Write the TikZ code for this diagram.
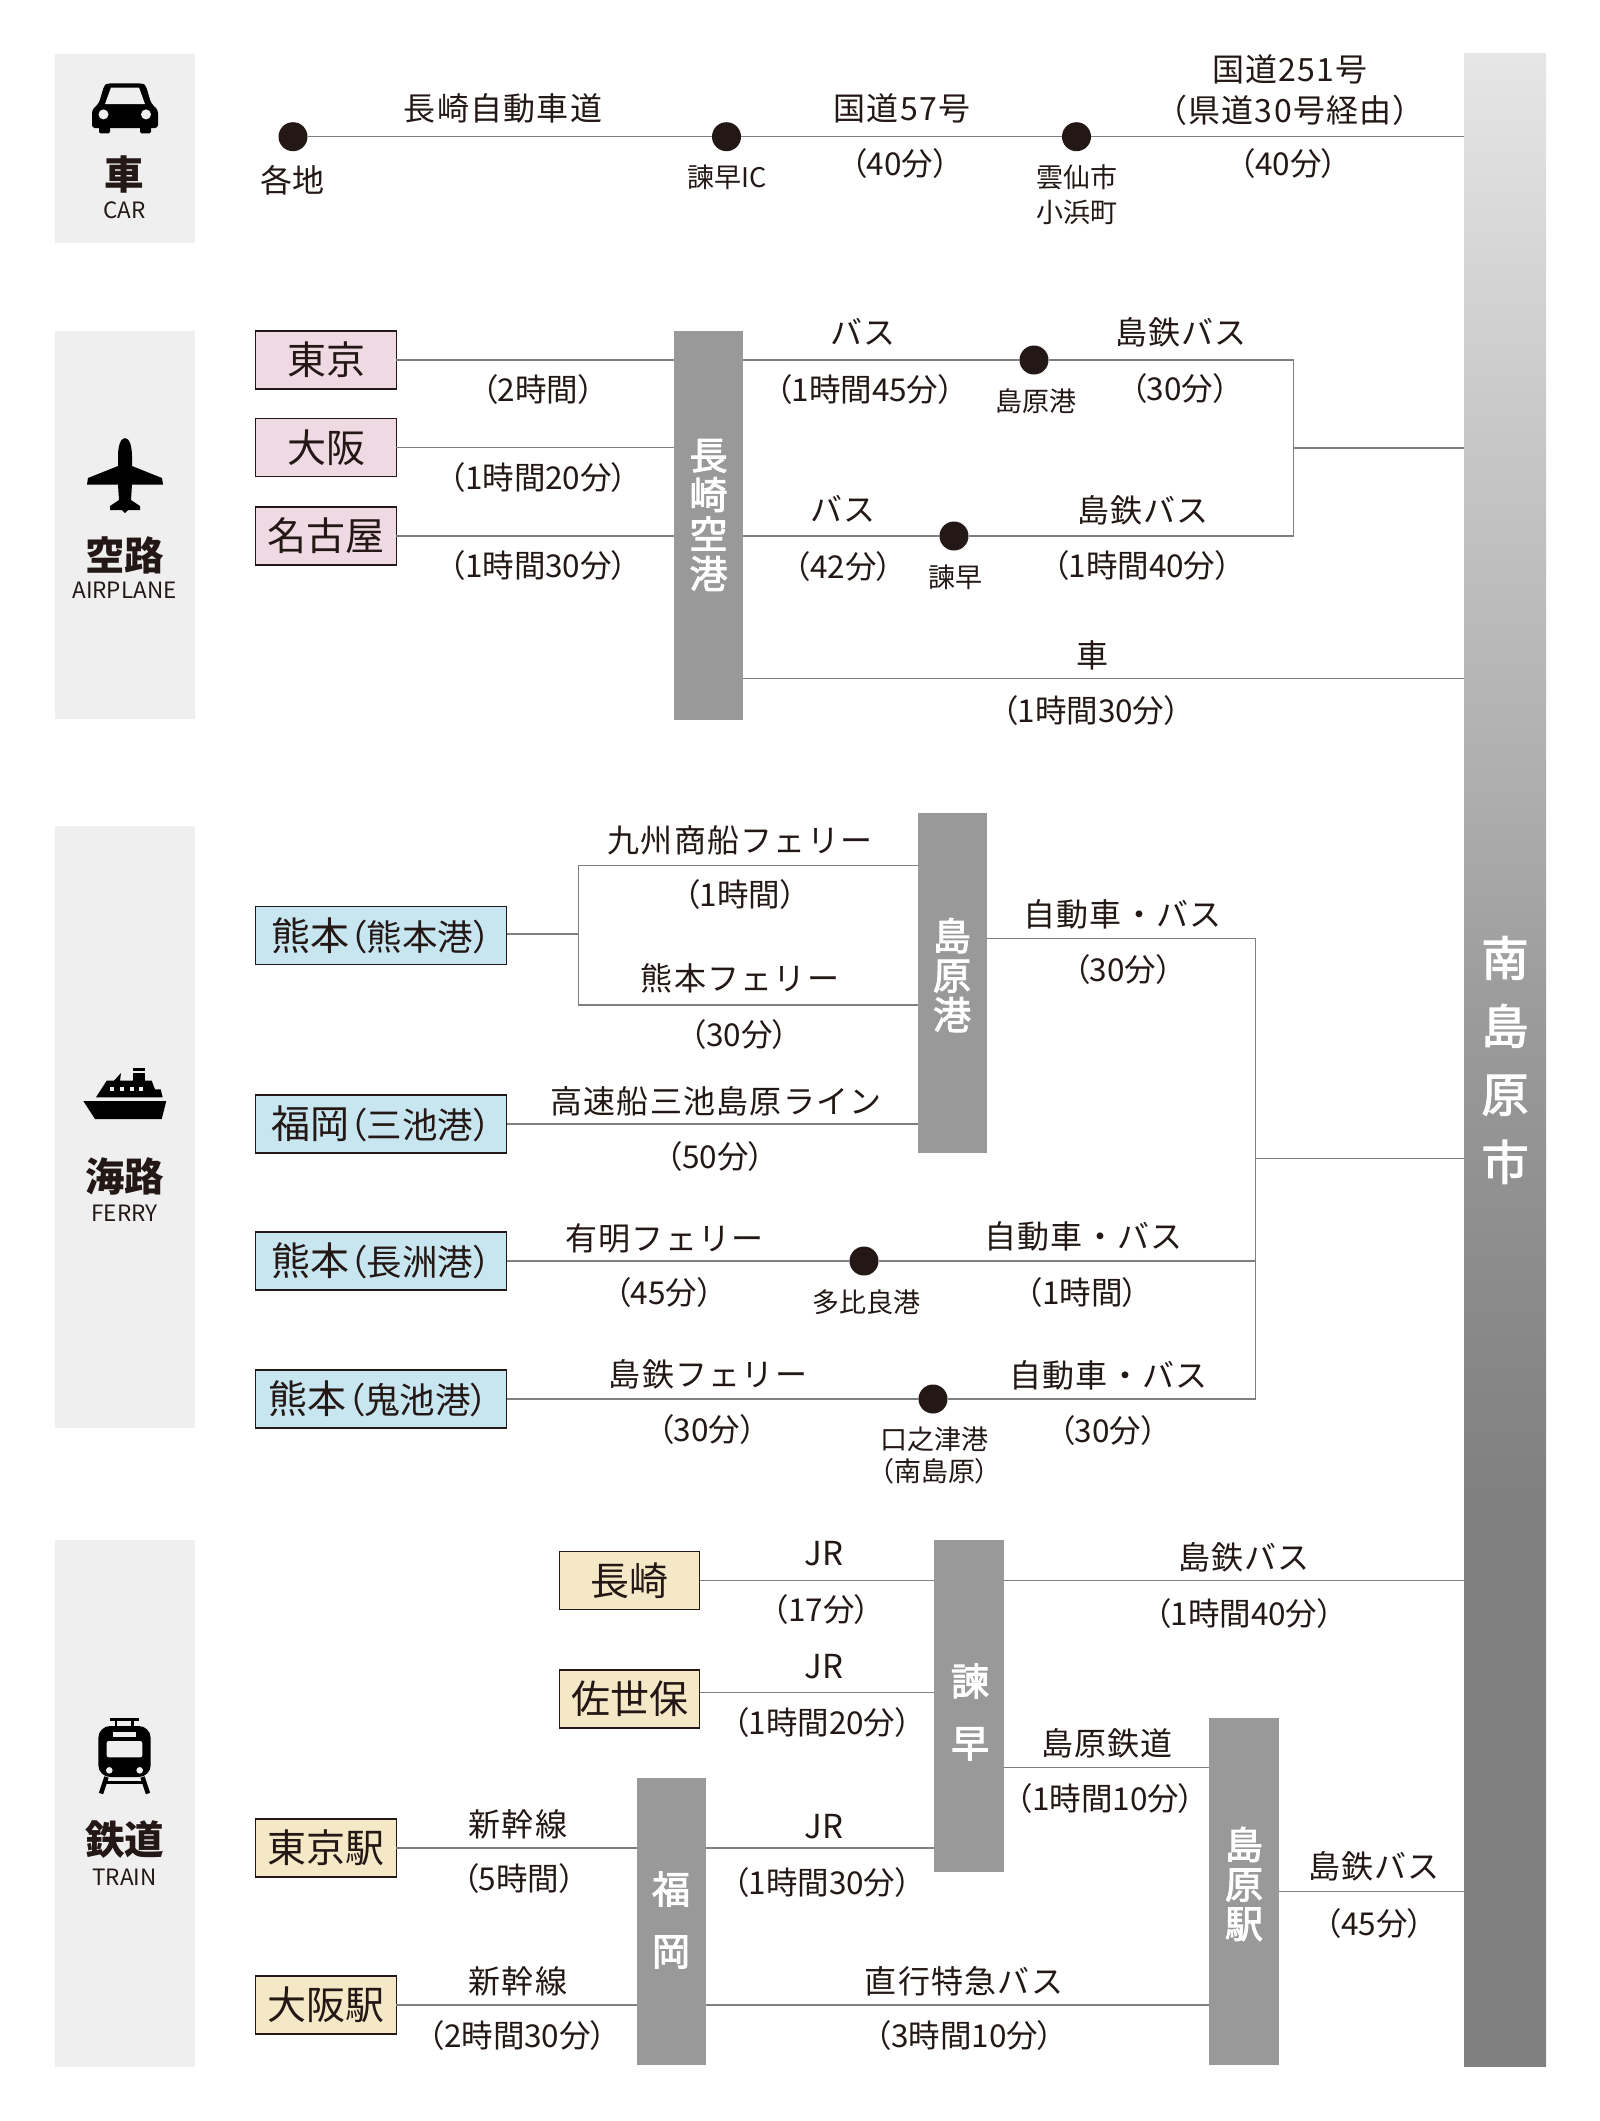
\documentclass[tikz,border=0pt]{standalone}
\usepackage{fontspec}
\setmainfont{Noto Sans CJK JP}
\newfontfamily\lblf[LetterSpace=4]{Noto Sans CJK JP}
\newfontfamily\durf[RawFeature=+palt]{Noto Sans CJK JP}
\newfontfamily\medf[FakeBold=2.5]{Noto Sans CJK JP}
\newcommand\fz[1]{\fontsize{#1}{#1}\selectfont}
\definecolor{ink}{HTML}{231815}
\definecolor{panel}{HTML}{EFEFEF}
\definecolor{barg}{HTML}{999999}
\definecolor{linec}{HTML}{7F7F7F}
\definecolor{pinkb}{HTML}{EFD9E3}
\definecolor{blueb}{HTML}{C8E6F0}
\definecolor{yellb}{HTML}{F5E8C6}
\definecolor{fa}{HTML}{808080}
\definecolor{fb}{HTML}{8A8A8A}
\definecolor{fc}{HTML}{9C9C9C}
\definecolor{fd}{HTML}{ADADAD}
\definecolor{fe}{HTML}{CACACA}
\definecolor{ff}{HTML}{E6E6E6}
\pgfdeclareverticalshading{barfade}{100bp}{color(0bp)=(fa); color(25bp)=(fa); color(39bp)=(fa); color(44bp)=(fb); color(51.5bp)=(fc); color(56.5bp)=(fd); color(66.4bp)=(fe); color(75bp)=(ff); color(100bp)=(ff)}
\tikzset{
  every node/.style={inner sep=0pt,outer sep=0pt,text=ink},
  wh/.style 2 args={minimum width=#1pt,minimum height=#2pt},
  panelbox/.style={fill=panel,minimum width=140pt},
  stopbox/.style={draw=ink,line width=1.3pt,minimum height=58pt,font=\fz{39}},
  pinkbox/.style={stopbox,fill=pinkb,minimum width=140.5pt},
  bluebox/.style={stopbox,fill=blueb,minimum width=251pt},
  yellbox/.style={stopbox,fill=yellb,minimum width=140.5pt},
  hubbar/.style={fill=barg,minimum width=69.5pt},
  hubtext/.style={align=center,text=white},
  tighthub/.style={hubtext,font=\medf\fontsize{38}{39.5}\selectfont},
  widehub/.style={hubtext,font=\medf\fontsize{38}{62}\selectfont},
  desthub/.style={hubtext,font=\medf\fontsize{47}{68}\selectfont},
  dotn/.style={circle,fill=ink,minimum size=29pt},
  conn/.style={draw=linec,line width=1.3pt},
  lab/.style={font=\lblf\fz{32}},
  latin/.style={font=\fz{33}},
  dur/.style={font=\durf\fz{31.5}},
  place/.style={font=\fz{27}},
  bigplace/.style={font=\fz{32}},
  modeh/.style={font=\bfseries\fz{39.5}},
  mode/.style={font=\fz{22.5}},
  icon/.style={fill=black},
}
\newcommand\sm[1]{{\durf\fz{35.5}#1}}
\begin{document}
\begin{tikzpicture}[x=1pt,y=-1pt]
\useasboundingbox (0,0) rectangle (1600,2121);
\fill[white] (0,0) rectangle (1600,2121);
% panels
\node (pcar) [panelbox,minimum height=189pt] at (124.5,148) {};
\node (pair) [panelbox,minimum height=388pt] at (124.5,525) {};
\node (pfer) [panelbox,minimum height=602pt] at (124.5,1127) {};
\node (ptra) [panelbox,minimum height=527.4pt] at (124.5,1803.3) {};
% destination bar
\node (dest) [shading=barfade,wh={82}{2013}] at (1505,1059.5) {};
\node (desttxt) [desthub] at (1505,1060) {南\\島\\原\\市};
% icons: car
\fill[icon,rounded corners=3pt] (92,128)--(92,110)--(99,103)--(104,86)--(107,83.4)--(143,83.4)--(146,86)--(151,103)--(158,110)--(158,128)--cycle;
\fill[icon,rounded corners=1.5pt] (99,126) rectangle (110,133.3);
\fill[icon,rounded corners=1.5pt] (140,126) rectangle (151,133.3);
\fill[panel] (105,104)--(111,87.5)--(139,87.5)--(145,104)--cycle;
\fill[panel] (103.5,114.4) circle (5);
\fill[panel] (146,114.4) circle (5);
% plane
\fill[icon] (125,438) .. controls (120,438) and (118,448) .. (118,456) -- (118,466) -- (88,478) -- (87,484.5) -- (118,484.5) -- (119,500) -- (110,506) -- (110,510) -- (122,510) -- (125,513) -- (128,510) -- (140,510) -- (140,506) -- (131,500) -- (132,484.5) -- (163,484.5) -- (162,478) -- (132,466) -- (132,456) .. controls (132,448) and (130,438) .. (125,438) -- cycle;
% ship
\fill[icon] (83.3,1101)--(166.3,1101)--(161.7,1119)--(95,1119)--cycle;
\fill[icon] (96,1097.3)--(106.7,1080.7)--(114,1080.7)--(121,1073)--(120,1080.7)--(151.7,1080.7)--(155,1089.3)--(160.7,1089.3)--(162.7,1097.3)--cycle;
\fill[icon] (133.3,1067.7) rectangle (145,1071);
\fill[icon] (133.3,1072.7) rectangle (145,1081);
\fill[panel] (109.7,1087.3) rectangle (113.7,1091.3);
\fill[panel] (119.7,1087.3) rectangle (123.7,1091.3);
\fill[panel] (129.7,1087.3) rectangle (133.7,1091.3);
\fill[panel] (139,1087.3) rectangle (143,1091.3);
% train
\fill[icon,rounded corners=12pt] (98.3,1726) rectangle (150.7,1777);
\fill[panel,rounded corners=2pt] (106.7,1741) rectangle (142.3,1757.3);
\fill[panel] (113.3,1732.3) rectangle (136,1736.7);
\fill[panel] (109.3,1770.3) circle (3.3);
\fill[panel] (139.7,1770.3) circle (3.3);
\draw[line width=2.6pt] (110,1719.3)--(139.3,1719.3);
\draw[line width=2.6pt] (116,1719.3)--(116,1727);
\draw[line width=2.6pt] (132.7,1719.3)--(132.7,1727);
\draw[line width=3pt] (105,1782)--(144,1782);
\draw[line width=4.5pt] (106.5,1777)--(101,1793.5);
\draw[line width=4.5pt] (142.5,1777)--(148,1793.5);
% mode labels
\node (m1) [modeh] at (124.5,174) {車};
\node (m2) [mode] at (124.5,210.5) {CAR};
\node (m3) [modeh] at (124.5,555) {空路};
\node (m4) [mode] at (124.5,590) {AIRPLANE};
\node (m5) [modeh] at (124.5,1176) {海路};
\node (m6) [mode] at (124.5,1213) {FERRY};
\node (m7) [modeh] at (124.5,1840) {鉄道};
\node (m8) [mode] at (124.5,1877) {TRAIN};
% car row
\node (c1) [dotn] at (293,136.7) {};
\node (c2) [dotn] at (726.5,136.7) {};
\node (c3) [dotn] at (1076.5,136.7) {};
\draw[conn] (c1) -- (c2);
\draw[conn] (c2) -- (c3);
\draw[conn] (c3) -- (c3 -| dest.west);
\node (t01) [lab] at (503,108.6) {長崎自動車道};
\node (t02) [bigplace] at (292,180.5) {各地};
\node (t03) [place] at (727,177) {諫早IC};
\node (t04) [lab] at (902,108.6) {国道57号};
\node (t05) [dur] at (900,164) {（40分）};
\node (t06) [place] at (1077,177.5) {雲仙市};
\node (t07) [place] at (1077,212.5) {小浜町};
\node (t08) [lab] at (1290,69.5) {国道251号};
\node (t09) [lab] at (1290,110) {（県道30号経由）};
\node (t10) [dur] at (1288.5,164) {（40分）};
% air
\node (tokyo) [pinkbox] at (326,360) {東京};
\node (osaka) [pinkbox] at (326,447.5) {大阪};
\node (nagoya) [pinkbox] at (326,536) {名古屋};
\node (ngap) [hubbar,minimum height=389pt] at (708.3,525) {};
\node (ngapt) [tighthub] at (708.5,515) {長\\崎\\空\\港};
\node (a1) [dotn] at (1034,360) {};
\node (a2) [dotn] at (954,536) {};
\coordinate (ja) at (1293.4,448);
\coordinate (jb) at (1293.4,360);
\coordinate (jc) at (1293.4,536);
\draw[conn] (tokyo) -- (tokyo -| ngap.west);
\draw[conn] (osaka) -- (osaka -| ngap.west);
\draw[conn] (nagoya) -- (nagoya -| ngap.west);
\draw[conn] (a1 -| ngap.east) -- (a1);
\draw[conn] (a1) -- (jb) -- (jc) -- (a2);
\draw[conn] (a2) -- (a2 -| ngap.east);
\draw[conn] (ja) -- (ja -| dest.west);
\coordinate (kr) at (1000,678.6);
\draw[conn] (kr -| ngap.east) -- (kr -| dest.west);
\node (t11) [dur] at (538,390) {（2時間）};
\node (t12) [dur] at (538.5,478) {（1時間20分）};
\node (t13) [dur] at (538.5,566) {（1時間30分）};
\node (t14) [lab] at (863,332) {バス};
\node (t15) [dur] at (865,389.5) {（1時間45分）};
\node (t16) [place] at (1035.5,401.5) {島原港};
\node (t17) [lab] at (1181,332.5) {島鉄バス};
\node (t18) [dur] at (1180,388.5) {（30分）};
\node (t19) [lab] at (843,509) {バス};
\node (t20) [dur] at (843.5,567) {（42分）};
\node (t21) [place] at (955,577.5) {諫早};
\node (t22) [lab] at (1143,510) {島鉄バス};
\node (t23) [dur] at (1142,566) {（1時間40分）};
\node (t24) [lab] at (1092,655) {車};
\node (t25) [dur] at (1091,711) {（1時間30分）};
% ferry
\node (kumakuma) [bluebox] at (381,935.5) {熊本\sm{（熊本港）}};
\node (fukumi) [bluebox] at (381,1124) {福岡\sm{（三池港）}};
\node (kumana) [bluebox] at (381,1261) {熊本\sm{（長洲港）}};
\node (kumaoni) [bluebox] at (381,1399) {\hspace*{-5pt}熊本\sm{（鬼池港）}};
\node (shport) [hubbar,minimum height=340pt] at (952.3,982.5) {};
\node (shportt) [tighthub] at (952,975) {島\\原\\港};
\node (f1) [dotn] at (864,1261) {};
\node (f2) [dotn] at (933,1399) {};
\coordinate (jf) at (578.8,934);
\coordinate (jft) at (578.8,865.6);
\coordinate (jfb) at (578.8,1005);
\coordinate (jr) at (1255.6,938.4);
\coordinate (jrm) at (1255.6,1158.5);
\coordinate (jrb) at (1255.6,1399);
\coordinate (jrn) at (1255.6,1261);
\draw[conn] (kumakuma.east |- jf) -- (jf);
\draw[conn] (shport.west |- jft) -- (jft) -- (jfb) -- (shport.west |- jfb);
\draw[conn] (fukumi) -- (fukumi -| shport.west);
\draw[conn] (kumana) -- (f1);
\draw[conn] (f1) -- (jrn);
\draw[conn] (kumaoni) -- (f2);
\draw[conn] (f2) -- (jrb) -- (jr) -- (shport.east |- jr);
\draw[conn] (jrm) -- (jrm -| dest.west);
\node (t26) [lab] at (740,840.5) {九州商船フェリー};
\node (t27) [dur] at (740,895) {（1時間）};
\node (t28) [lab] at (740,978.5) {熊本フェリー};
\node (t29) [dur] at (739.5,1034.5) {（30分）};
\node (t30) [lab] at (716,1101) {高速船三池島原ライン};
\node (t31) [dur] at (715.5,1157) {（50分）};
\node (t32) [lab] at (664.5,1238) {有明フェリー};
\node (t33) [dur] at (664,1292.5) {（45分）};
\node (t34) [place] at (866,1302.5) {多比良港};
\node (t35) [lab] at (708,1374) {島鉄フェリー};
\node (t36) [dur] at (707,1429.5) {（30分）};
\node (t37) [place] at (934.5,1439) {口之津港};
\node (t38) [place] at (934.5,1471) {{\durf （}南島原{\durf ）}};
\node (t39) [lab] at (1122.5,914) {自動車・バス};
\node (t40) [dur] at (1123,969.5) {（30分）};
\node (t41) [lab] at (1083.5,1236.5) {自動車・バス};
\node (t42) [dur] at (1082.5,1292.5) {（1時間）};
\node (t43) [lab] at (1108.5,1375) {自動車・バス};
\node (t44) [dur] at (1108,1431) {（30分）};
% train
\node (nagasaki) [yellbox] at (629.5,1580.6) {長崎};
\node (sasebo) [yellbox] at (629.5,1699) {佐世保};
\node (tokyost) [yellbox] at (326,1848) {東京駅};
\node (osakast) [yellbox] at (326,2005) {大阪駅};
\node (isa) [hubbar,minimum height=332pt] at (969.1,1705.5) {};
\node (isat) [widehub] at (970,1712) {諫\\早};
\node (fuk) [hubbar,minimum height=287pt] at (671.5,1921.5) {};
\node (fukt) [widehub] at (671,1920) {福\\岡};
\node (shst) [hubbar,minimum height=347pt] at (1243.8,1891.5) {};
\node (shstt) [tighthub] at (1244,1884) {島\\原\\駅};
\coordinate (ys) at (800,1692.5);
\coordinate (yt) at (800,1767.3);
\coordinate (yb) at (1400,1891.7);
\draw[conn] (nagasaki) -- (nagasaki -| isa.west);
\draw[conn] (sasebo.east |- ys) -- (isa.west |- ys);
\draw[conn] (tokyost) -- (tokyost -| fuk.west);
\draw[conn] (osakast) -- (osakast -| fuk.west);
\draw[conn] (fuk.east |- tokyost) -- (isa.west |- tokyost);
\draw[conn] (fuk.east |- osakast) -- (shst.west |- osakast);
\draw[conn] (isa.east |- nagasaki) -- (dest.west |- nagasaki);
\draw[conn] (isa.east |- yt) -- (shst.west |- yt);
\draw[conn] (shst.east |- yb) -- (dest.west |- yb);
\node (t45) [latin] at (824,1554) {JR};
\node (t46) [dur] at (821.5,1610) {（17分）};
\node (t47) [latin] at (824,1666.5) {JR};
\node (t48) [dur] at (822,1723) {（1時間20分）};
\node (t49) [latin] at (824,1827) {JR};
\node (t50) [dur] at (822,1883) {（1時間30分）};
\node (t51) [lab] at (518,1824) {新幹線};
\node (t52) [dur] at (519,1879) {（5時間）};
\node (t53) [lab] at (518,1981) {新幹線};
\node (t54) [dur] at (517.5,2036) {（2時間30分）};
\node (t55) [lab] at (964,1981) {直行特急バス};
\node (t56) [dur] at (964.5,2036) {（3時間10分）};
\node (t57) [lab] at (1244,1557) {島鉄バス};
\node (t58) [dur] at (1244,1613.5) {（1時間40分）};
\node (t59) [lab] at (1107,1743) {島原鉄道};
\node (t60) [dur] at (1105.5,1799) {（1時間10分）};
\node (t61) [lab] at (1374,1866.5) {島鉄バス};
\node (t62) [dur] at (1374.5,1924) {（45分）};
\end{tikzpicture}
\end{document}
